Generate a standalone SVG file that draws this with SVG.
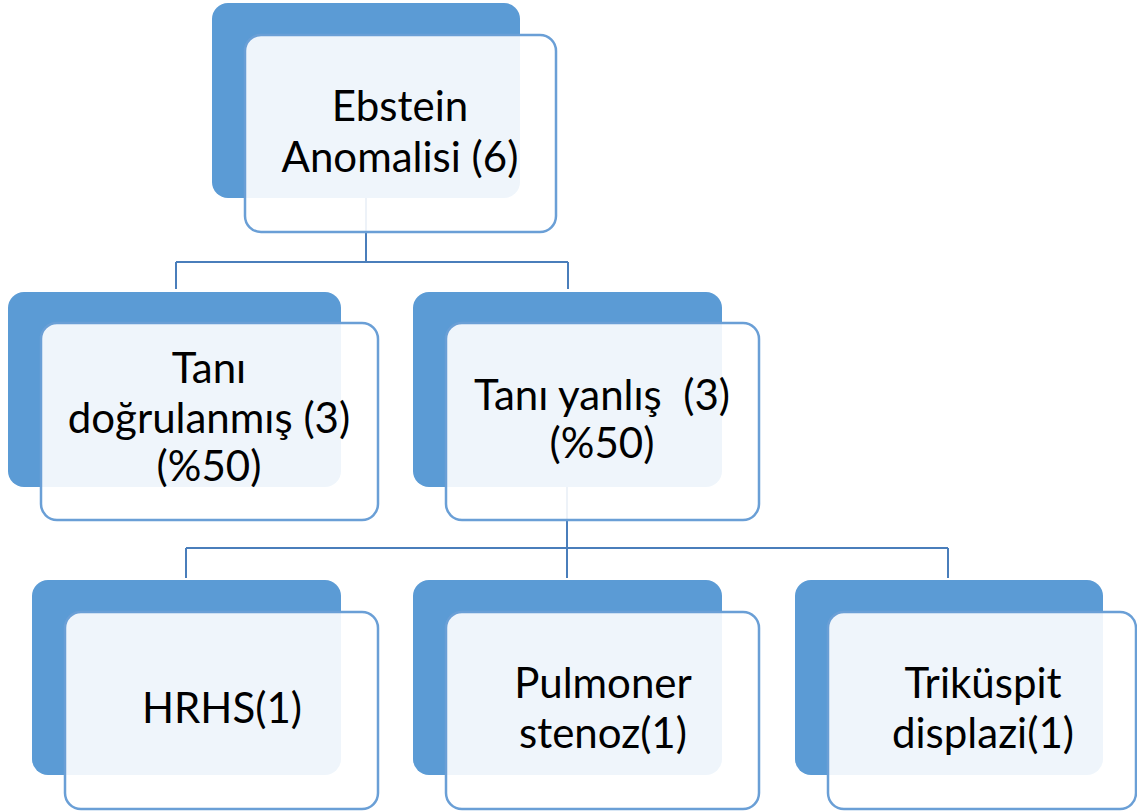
<svg xmlns="http://www.w3.org/2000/svg" width="1137" height="812" viewBox="0 0 1137 812">
  <style>
    .back { fill: #5b9bd5; }
    .front { fill: #ffffff; fill-opacity: 0.9; stroke: #6a9fd6; stroke-width: 2.5; }
    .label { font-family: Lato, "Liberation Sans", sans-serif; font-size: 42px; fill: #000000; text-anchor: middle; }
    .link { fill: none; stroke: #4a7ebb; stroke-width: 2; }
  </style>
  <rect width="1137" height="812" fill="#ffffff"/>

  <!-- tree connectors, drawn beneath the cards -->
  <g id="connectors">
    <path class="link" d="M366,150 V262 M176,262 H568 M176,262 V289 M568,262 V289"/>
    <path class="link" d="M567,420 V548 M186,548 H948 M186,548 V578 M567,548 V578 M948,548 V578"/>
  </g>

  <g id="node-ebstein">
    <rect class="back" x="212" y="3" width="308" height="195" rx="16"/>
    <rect class="front" x="245" y="35" width="311" height="197" rx="16"/>
    <text class="label" x="400" y="121">Ebstein</text>
    <text class="label" x="400" y="172">Anomalisi (6)</text>
  </g>

  <g id="node-dogrulanmis">
    <rect class="back" x="8" y="292" width="333" height="195" rx="16"/>
    <rect class="front" x="41" y="323" width="337" height="197" rx="16"/>
    <text class="label" x="209" y="383">Tanı</text>
    <text class="label" x="209" y="433">doğrulanmış (3)</text>
    <text class="label" x="209" y="481">(%50)</text>
  </g>

  <g id="node-yanlis">
    <rect class="back" x="413" y="292" width="309" height="195" rx="16"/>
    <rect class="front" x="446" y="323" width="313" height="197" rx="16"/>
    <text class="label" x="602" y="410" xml:space="preserve">Tanı yanlış  (3)</text>
    <text class="label" x="602" y="458">(%50)</text>
  </g>

  <g id="node-hrhs">
    <rect class="back" x="32" y="580" width="309" height="195" rx="16"/>
    <rect class="front" x="65" y="612" width="313" height="197" rx="16"/>
    <text class="label" x="222" y="723">HRHS(1)</text>
  </g>

  <g id="node-pulmoner">
    <rect class="back" x="413" y="580" width="309" height="195" rx="16"/>
    <rect class="front" x="446" y="612" width="313" height="197" rx="16"/>
    <text class="label" x="603" y="698">Pulmoner</text>
    <text class="label" x="603" y="748">stenoz(1)</text>
  </g>

  <g id="node-trikuspit">
    <rect class="back" x="795" y="580" width="308" height="195" rx="16"/>
    <rect class="front" x="828" y="612" width="308" height="197" rx="16"/>
    <text class="label" x="983" y="698">Triküspit</text>
    <text class="label" x="983" y="748">displazi(1)</text>
  </g>
</svg>
